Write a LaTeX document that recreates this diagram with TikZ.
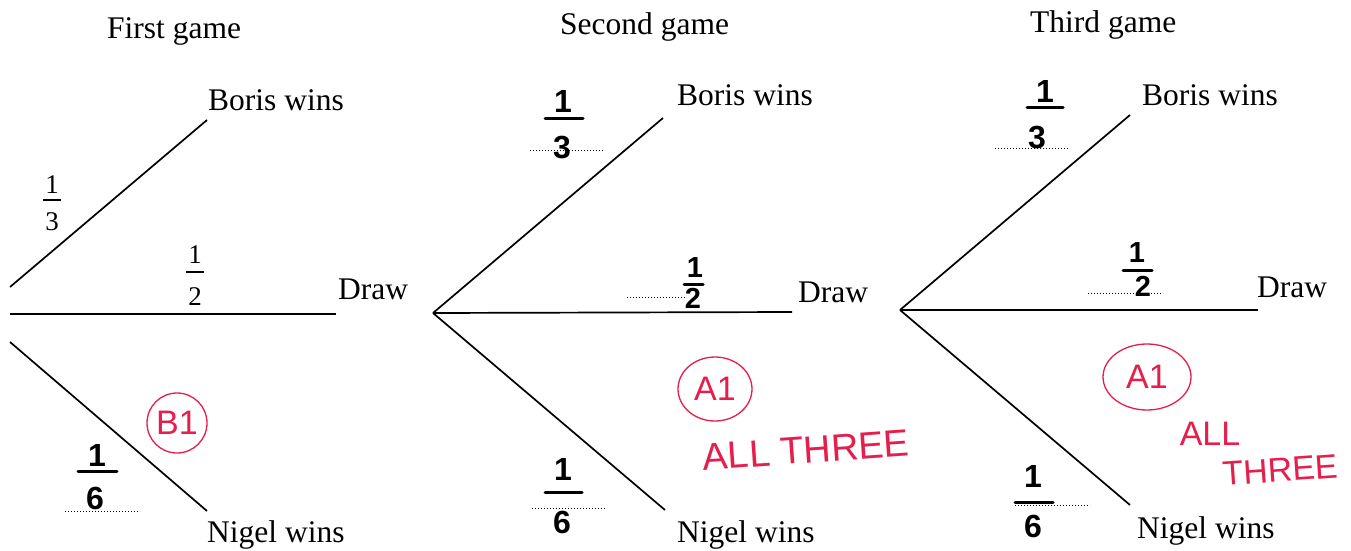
\documentclass[tikz,border=0pt]{standalone}
\usepackage{fontspec}
\setmainfont{Liberation Serif}
\newfontfamily\hwfont{Liberation Sans}
\usetikzlibrary{shapes.geometric}
\definecolor{pen}{RGB}{230,30,75}
\begin{document}
\begin{tikzpicture}[x=1pt,y=-1pt,
  branch/.style={line width=1.7pt},
  lbl/.style={anchor=base west,inner sep=0pt,font=\fontsize{31.5}{36}\selectfont},
  pd/.style={inner sep=0pt,font=\fontsize{27}{30}\selectfont},
  pbar/.style={line width=1.2pt},
  hd/.style={inner sep=0pt,font=\hwfont\bfseries\fontsize{32}{34}\selectfont},
  hds/.style={inner sep=0pt,font=\hwfont\bfseries\fontsize{29}{31}\selectfont},
  hbar/.style={line width=3pt,line cap=round},
  dots/.style={dotted,line width=1pt},
  redtxt/.style={inner sep=0pt,text=pen,font=\hwfont\fontsize{38}{40}\selectfont},
  redtxts/.style={inner sep=0pt,text=pen,font=\hwfont\fontsize{34}{36}\selectfont},
  redring/.style={draw=pen,line width=1.3pt,text=pen,inner sep=2pt,font=\hwfont\fontsize{34}{36}\selectfont}]
\useasboundingbox (0,0) rectangle (1351,551);
\fill[white] (0,0) rectangle (1351,551);

% headers
\node[lbl] (h1) at (107,38) {First game};
\node[lbl] (h2) at (560,35) {Second game};
\node[lbl] (h3) at (1030,33) {Third game};

% ---------- first game ----------
\coordinate (a1) at (10,287);
\coordinate (a2) at (10,314);
\coordinate (a3) at (10,342);
\coordinate (aB) at (207,120);
\coordinate (aD) at (336,314);
\coordinate (aN) at (207,511);
\draw[branch] (a1) -- (aB);
\draw[branch] (a2) -- (aD);
\draw[branch] (a3) -- (aN);
\node[lbl] (aBl) at (208,110) {Boris wins};
\node[lbl] (aDl) at (338,299) {Draw};
\node[lbl] (aNl) at (207,542) {Nigel wins};
% printed fractions
\node[pd] (p13n) at (52,185) {1};
\coordinate (p13a) at (43,200); \coordinate (p13b) at (61,200);
\draw[pbar] (p13a) -- (p13b);
\node[pd] (p13d) at (52,222) {3};
\node[pd] (p12n) at (195,255) {1};
\coordinate (p12a) at (186,272); \coordinate (p12b) at (204,272);
\draw[pbar] (p12a) -- (p12b);
\node[pd] (p12d) at (195,297) {2};
% handwritten 1/6
\node[hd] (f16n) at (97,455) {1};
\coordinate (f16a) at (78,471); \coordinate (f16b) at (117,471);
\draw[hbar] (f16a) -- (f16b);
\node[hd] (f16d) at (95,498) {6};
\coordinate (f16s) at (65,511); \coordinate (f16e) at (140,511);
\draw[dots] (f16s) -- (f16e);
% B1
\node[redring,circle,minimum size=60pt] (b1) at (177,423) {B1};

% ---------- second game ----------
\coordinate (s0) at (433,313);
\coordinate (sB) at (663,118);
\coordinate (sD) at (792,312);
\coordinate (sN) at (665,510);
\draw[branch] (s0) -- (sB);
\draw[branch] (s0) -- (sD);
\draw[branch] (s0) -- (sN);
\node[lbl] (sBl) at (677,105) {Boris wins};
\node[lbl] (sDl) at (798,302) {Draw};
\node[lbl] (sNl) at (677,542) {Nigel wins};
% 1/3
\node[hd] (s13n) at (563,101) {1};
\coordinate (s13a) at (545,118); \coordinate (s13b) at (583,118);
\draw[hbar] (s13a) -- (s13b);
\node[hd] (s13d) at (562,148) {3};
\coordinate (s13s) at (530,150); \coordinate (s13e) at (603,150);
\draw[dots] (s13s) -- (s13e);
% 1/2
\node[hds] (s12n) at (695,268) {1};
\coordinate (s12a) at (684,284); \coordinate (s12b) at (703,284);
\draw[hbar] (s12a) -- (s12b);
\node[hds] (s12d) at (693,298) {2};
\coordinate (s12s) at (627,297); \coordinate (s12e) at (685,297);
\draw[dots] (s12s) -- (s12e);
% 1/6
\node[hd] (s16n) at (563,469) {1};
\coordinate (s16a) at (545,492); \coordinate (s16b) at (582,492);
\draw[hbar] (s16a) -- (s16b);
\node[hd] (s16d) at (562,522) {6};
\coordinate (s16s) at (532,508); \coordinate (s16e) at (605,508);
\draw[dots] (s16s) -- (s16e);
% A1 + ALL THREE
\node[redring,ellipse,minimum width=74pt,minimum height=64pt] (sA1) at (715,389) {A1};
\node[redtxt,rotate=4] (sAll) at (806,450) {ALL THREE};

% ---------- third game ----------
\coordinate (t0) at (900,310);
\coordinate (tB) at (1130,115);
\coordinate (tD) at (1258,310);
\coordinate (tN) at (1130,505);
\draw[branch] (t0) -- (tB);
\draw[branch] (t0) -- (tD);
\draw[branch] (t0) -- (tN);
\node[lbl] (tBl) at (1142,105) {Boris wins};
\node[lbl] (tDl) at (1257,297) {Draw};
\node[lbl] (tNl) at (1137,538) {Nigel wins};
% 1/3
\node[hd] (t13n) at (1045,91) {1};
\coordinate (t13a) at (1027,107); \coordinate (t13b) at (1063,107);
\draw[hbar] (t13a) -- (t13b);
\node[hd] (t13d) at (1037,138) {3};
\coordinate (t13s) at (995,148); \coordinate (t13e) at (1070,148);
\draw[dots] (t13s) -- (t13e);
% 1/2
\node[hds] (t12n) at (1137,253) {1};
\coordinate (t12a) at (1123,270); \coordinate (t12b) at (1152,270);
\draw[hbar] (t12a) -- (t12b);
\node[hds] (t12d) at (1143,286) {2};
\coordinate (t12s) at (1088,293); \coordinate (t12e) at (1163,293);
\draw[dots] (t12s) -- (t12e);
% 1/6
\node[hd] (t16n) at (1033,476) {1};
\coordinate (t16a) at (1015,502); \coordinate (t16b) at (1053,502);
\draw[hbar] (t16a) -- (t16b);
\node[hd] (t16d) at (1033,526) {6};
\coordinate (t16s) at (1015,505); \coordinate (t16e) at (1090,505);
\draw[dots] (t16s) -- (t16e);
% A1 + ALL THREE
\node[redring,ellipse,minimum width=88pt,minimum height=66pt] (tA1) at (1147,377) {A1};
\node[redtxts] (tAll) at (1210,434) {ALL};
\node[redtxts,rotate=4] (tThree) at (1280,470) {THREE};
\end{tikzpicture}
\end{document}
